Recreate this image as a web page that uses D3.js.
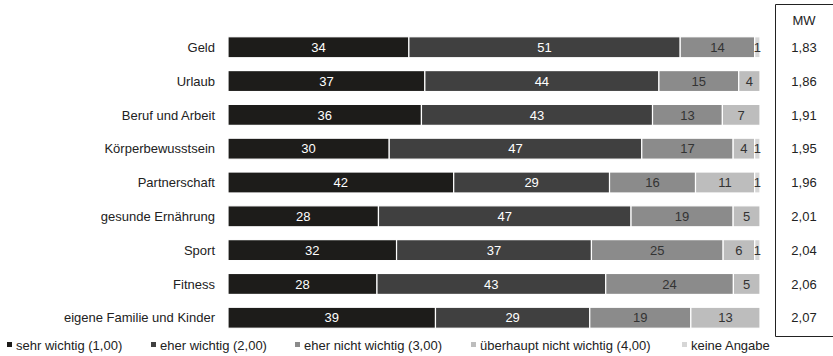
<!DOCTYPE html>
<html>
<head>
<meta charset="utf-8">
<script src="https://cdn.jsdelivr.net/npm/d3@7"></script>
<style>
  body { margin: 0; background: #fff; }
  svg { font-family: "Liberation Sans", Arial, sans-serif; }
</style>
</head>
<body>
<div id="viz-container"></div>
<script>
// categories (top to bottom)
const categories = ["Geld", "Urlaub", "Beruf und Arbeit", "Körperbewusstsein", "Partnerschaft",
    "gesunde Ernährung", "Sport", "Fitness", "eigene Familie und Kinder"];

const seriesNames = ["sehr wichtig (1,00)", "eher wichtig (2,00)", "eher nicht wichtig (3,00)",
    "überhaupt nicht wichtig (4,00)", "keine Angabe"];

// percentages per series
const sehrWichtig      = [34, 37, 36, 30, 42, 28, 32, 28, 39];
const eherWichtig      = [51, 44, 43, 47, 29, 47, 37, 43, 29];
const eherNichtWichtig = [14, 15, 13, 17, 16, 19, 25, 24, 19];
const ueberhauptNicht  = [0, 4, 7, 4, 11, 5, 6, 5, 13];
const keineAngabe      = [1, 0, 0, 1, 1, 0, 1, 0, 0];

// Mittelwerte
const mw = ["1,83", "1,86", "1,91", "1,95", "1,96", "2,01", "2,04", "2,06", "2,07"];

const colors = ["#1d1c1a", "#404040", "#8b8b8b", "#bdbdbd", "#d6d6d6"];
const labelColors = ["#fff", "#fff", "#333", "#333", "#333"];

const keys = ["s0", "s1", "s2", "s3", "s4"];
const table = categories.map((c, i) => ({
    cat: c,
    s0: sehrWichtig[i], s1: eherWichtig[i], s2: eherNichtWichtig[i],
    s3: ueberhauptNicht[i], s4: keineAngabe[i]
}));

const W = 833, H = 356;
const svg = d3.select("#viz-container").append("svg")
    .attr("width", W).attr("height", H);

const x = d3.scaleLinear().domain([0, 1]).range([228, 760]);
const y = d3.scaleBand().domain(categories).range([30, 335]).paddingInner(0.38).paddingOuter(0.2);

const stacked = d3.stack().keys(keys).offset(d3.stackOffsetExpand)(table);

// bars
const layer = svg.selectAll("g.layer")
    .data(stacked)
    .enter().append("g")
    .attr("class", "layer")
    .attr("fill", (d, i) => colors[i]);

layer.selectAll("rect")
    .data(d => d)
    .enter().append("rect")
    .attr("x", d => x(d[0]))
    .attr("y", d => y(d.data.cat))
    .attr("width", d => Math.max(0, x(d[1]) - x(d[0])))
    .attr("height", y.bandwidth())
    .attr("stroke", "#fff")
    .attr("stroke-width", 1.2);

// segment labels
stacked.forEach((s, si) => {
    svg.append("g").selectAll("text")
        .data(s.filter(d => d.data[s.key] > 0))
        .enter().append("text")
        .attr("x", d => (x(d[0]) + x(d[1])) / 2)
        .attr("y", d => y(d.data.cat) + y.bandwidth() / 2)
        .attr("dy", "0.36em")
        .attr("text-anchor", "middle")
        .attr("font-size", "13px")
        .attr("fill", labelColors[si])
        .text(d => d.data[s.key]);
});

// category labels
svg.append("g").selectAll("text")
    .data(categories)
    .enter().append("text")
    .attr("x", 215)
    .attr("y", d => y(d) + y.bandwidth() / 2)
    .attr("dy", "0.36em")
    .attr("text-anchor", "end")
    .attr("font-size", "13px")
    .attr("fill", "#222")
    .text(d => d);

// MW box
svg.append("path")
    .attr("d", "M840,4.5 H775.5 V336.5 H840")
    .attr("fill", "none")
    .attr("stroke", "#222")
    .attr("stroke-width", 1);

svg.append("text")
    .attr("x", 804).attr("y", 20)
    .attr("dy", "0.36em")
    .attr("text-anchor", "middle")
    .attr("font-size", "13px")
    .attr("fill", "#222")
    .text("MW");

svg.append("g").selectAll("text")
    .data(mw)
    .enter().append("text")
    .attr("x", 804)
    .attr("y", (d, i) => y(categories[i]) + y.bandwidth() / 2)
    .attr("dy", "0.36em")
    .attr("text-anchor", "middle")
    .attr("font-size", "13px")
    .attr("fill", "#222")
    .text(d => d);

// legend
const legendX = [7, 151, 295, 471, 682];
const legend = svg.append("g").selectAll("g")
    .data(seriesNames)
    .enter().append("g")
    .attr("transform", (d, i) => `translate(${legendX[i]},345)`);

legend.append("rect")
    .attr("x", 0).attr("y", -3)
    .attr("width", 5).attr("height", 5)
    .attr("fill", (d, i) => colors[i]);

legend.append("text")
    .attr("x", 9)
    .attr("dy", "0.36em")
    .attr("font-size", "13px")
    .attr("fill", "#222")
    .text(d => d);
</script>
</body>
</html>
